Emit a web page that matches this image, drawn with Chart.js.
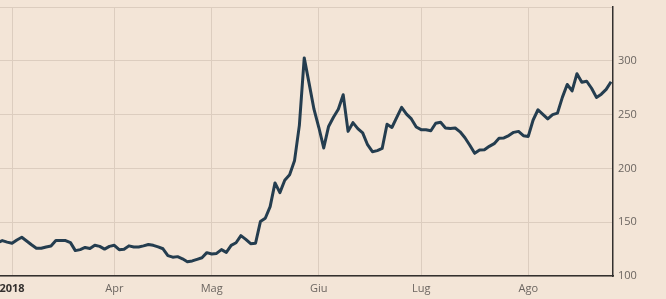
<!DOCTYPE html>
<html lang="it">
<head>
  <meta charset="utf-8">
  <script src="https://cdn.jsdelivr.net/npm/chart.js"></script>
  <title>Spread 2018</title>
  <style>
    html, body { margin: 0; padding: 0; background: #f3e5d7; }
    #wrap { width: 666px; height: 299px; position: relative; }
  </style>
</head>
<body>
<div id="wrap"><canvas id="spreadChart"></canvas></div>
<script>
  // one value per trading day, from late Feb to 24 Aug 2018
  const values = [
    131, 132.9, 131.5, 130.4, 133.5, 136, 132.5, 129, 125.8, 125.8,
    127, 127.9, 133, 133, 132.9, 131, 123.6, 124.5, 126.5, 125.5,
    128.5, 127.5, 125, 127.5, 128.5, 124.5, 124.8, 128, 127, 127,
    128, 129.3, 128.5, 127, 125.3, 119, 117.5, 118, 116, 113.3,
    114, 115.5, 117, 121.7, 120.5, 121, 124.5, 122, 128.5, 130.9,
    137.5, 134, 130, 130.4, 150.6, 153.7, 164.5, 186.5, 177.5, 189,
    194, 207, 240, 302.7, 279, 255, 238, 219, 239, 247.5,
    255, 268.5, 234.4, 242.5, 237, 233, 222, 215.5, 216.5, 218.5,
    241, 238, 247.5, 256.7, 250.5, 246, 238.5, 236, 236, 235,
    242, 242.8, 237.5, 237, 237.5, 234, 228.5, 221.5, 214, 217,
    217.3, 220.5, 223, 228, 228.3, 230.5, 233.5, 234.4, 230.4, 229.7,
    245, 254.5, 250.3, 246, 250, 251.4, 266, 278, 272, 288,
    280, 281, 274.5, 266, 269, 273.5, 280.5
  ];
  // index of the first trading day of each month, and its label
  const monthStarts = [3, 24, 44, 66, 87, 109];
  const monthLabels = ['2018', 'Apr', 'Mag', 'Giu', 'Lug', 'Ago'];
  const yTicks = [100, 150, 200, 250, 300, 350];

  const points = values.map((v, i) => ({ x: i, y: v }));

  const ctx = document.getElementById('spreadChart').getContext('2d');
  new Chart(ctx, {
    type: 'line',
    data: {
      datasets: [{
        data: points,
        borderColor: '#243d4f',
        borderWidth: 3,
        pointRadius: 0,
        tension: 0,
        borderJoinStyle: 'round',
        fill: false
      }]
    },
    options: {
      responsive: true,
      maintainAspectRatio: false,
      animation: false,
      layout: { padding: { top: 7, left: 0, right: 0, bottom: 0 } },
      plugins: { legend: { display: false }, tooltip: { enabled: false } },
      scales: {
        x: {
          type: 'linear',
          min: 0.53,
          max: 126.4,
          afterBuildTicks: scale => {
            scale.ticks = monthStarts.map(v => ({ value: v }));
          },
          afterFit: scale => {
            scale.height = 23;
            scale.paddingLeft = 0;
            scale.paddingRight = 0;
          },
          grid: { color: '#dccdbf', drawTicks: false },
          border: { color: '#33302e', width: 1.5 },
          ticks: {
            padding: 6,
            maxRotation: 0,
            autoSkip: false,
            callback: (v, i) => monthLabels[i],
            color: c => c.index === 0 ? '#33302e' : '#6b6560',
            font: c => ({ family: 'Open Sans', size: 11, weight: c.index === 0 ? 'bold' : 'normal' })
          }
        },
        y: {
          position: 'right',
          min: 100,
          max: 350,
          afterBuildTicks: scale => {
            scale.ticks = yTicks.map(v => ({ value: v }));
          },
          afterFit: scale => {
            scale.width = 53;
            scale.paddingTop = 0;
            scale.paddingBottom = 0;
          },
          grid: { color: '#dccdbf', drawTicks: false },
          border: { color: '#33302e', width: 1.5 },
          ticks: {
            padding: 5,
            callback: v => v === 350 ? '' : v,
            color: '#6b6560',
            font: { family: 'Open Sans', size: 11 }
          }
        }
      }
    }
  });
</script>
</body>
</html>
